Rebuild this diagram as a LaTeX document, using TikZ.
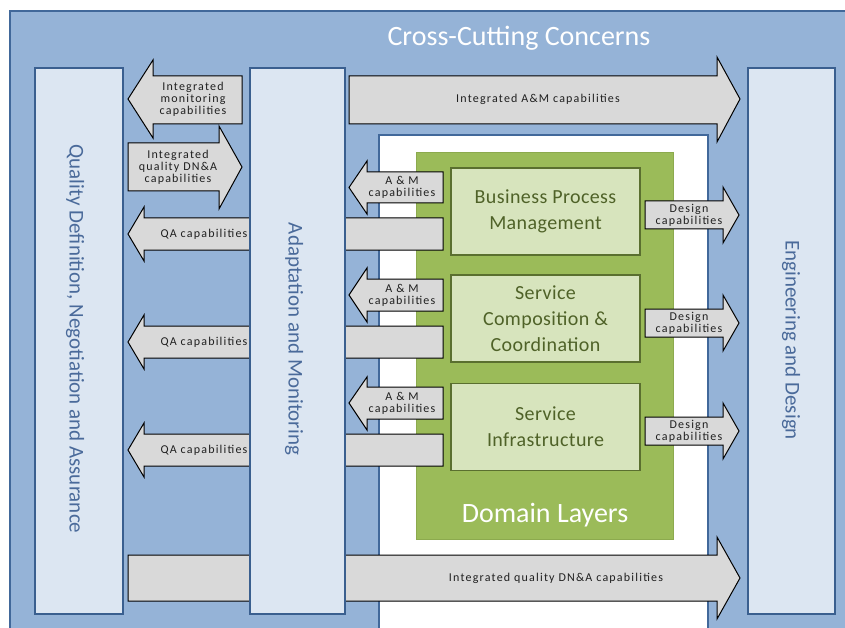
\documentclass[tikz,border=0pt]{standalone}
\usepackage{fontspec}
\setmainfont{Carlito}
\newfontfamily\lblfont[LetterSpace=10]{Carlito}
\newfontfamily\bigfont[LetterSpace=2]{Carlito}
\definecolor{frameblue}{HTML}{95B3D7}
\definecolor{frameline}{HTML}{41689A}
\definecolor{boxfill}{HTML}{DCE6F2}
\definecolor{boxline}{HTML}{3A5F8F}
\definecolor{arrgray}{HTML}{D9D9D9}
\definecolor{greenfill}{HTML}{9BBB59}
\definecolor{greenline}{HTML}{8CAA4E}
\definecolor{lightgreen}{HTML}{D7E4BD}
\definecolor{darkgreen}{HTML}{4F6228}
\definecolor{vtext}{HTML}{4A6A9A}
\definecolor{lbltext}{HTML}{202020}
\tikzset{
  outerframe/.style={fill=frameblue, draw=frameline, line width=1.3pt},
  whitearea/.style={fill=white, draw=frameline, line width=1.3pt},
  greenarea/.style={fill=greenfill, draw=greenline, line width=1pt},
  pillar/.style={fill=boxfill, draw=boxline, line width=1.6pt, inner sep=0pt, anchor=north west},
  dombox/.style={fill=lightgreen, draw=darkgreen!85!greenfill, line width=1.6pt, minimum width=189pt, minimum height=87pt, inner sep=0pt, align=center, text=darkgreen, font=\bigfont\fontsize{20}{26}\selectfont},
  blockarrow/.style={fill=arrgray, draw=black, line width=1pt, line join=miter},
  lbl/.style={inner sep=0pt, align=center, text=lbltext, font=\lblfont\fontsize{12}{12}\selectfont},
  vlabel/.style={inner sep=0pt, rotate=-90, text=vtext, font=\fontsize{21}{24}\selectfont},
  titlelbl/.style={inner sep=0pt, text=white, font=\fontsize{28}{30}\selectfont}
}
\begin{document}
\begin{tikzpicture}[x=1pt, y=-1pt]
\useasboundingbox (0,0) rectangle (845,628);
\clip (0,0) rectangle (845,628);
% outer frame
\draw[outerframe] (10,11) rectangle (860,650);
\node[titlelbl] (title) at (519,38) {Cross-Cutting Concerns};
% white area and domain layers
\draw[whitearea] (379,135) rectangle (708,650);
\draw[greenarea] (416,153) rectangle (673,539);
\node[titlelbl] (domain) at (545,515) {Domain Layers};
\node[dombox] (bpm) at (545.5,211.5) {Business Process\\Management};
\node[dombox] (scc) at (545.5,318.5) {Service\\Composition \&\\Coordination};
\node[dombox] (sinf) at (545.5,427) {Service\\Infrastructure};
% side pillars
\node[pillar, minimum width=88pt, minimum height=546pt] (qual) at (34,67) {};
\node[pillar, minimum width=87pt, minimum height=546pt] (eng) at (747,67) {};
% block arrows
\draw[blockarrow] (242,76) -- (153,76) -- (153,60) -- (128,99) -- (153,138) -- (153,124) -- (242,124) -- cycle;
\draw[blockarrow] (128,143) -- (219,143) -- (219,126) -- (242,167) -- (219,209) -- (219,191) -- (128,191) -- cycle;
\draw[blockarrow] (349,76) -- (717,76) -- (717,57) -- (740,99) -- (717,142) -- (717,124) -- (349,124) -- cycle;
% QA arrows
\draw[blockarrow] (443,218) -- (144,218) -- (144,207) -- (128,234) -- (144,261) -- (144,250) -- (443,250) -- cycle;
\draw[blockarrow] (443,326) -- (144,326) -- (144,315) -- (128,342) -- (144,369) -- (144,358) -- (443,358) -- cycle;
\draw[blockarrow] (443,434) -- (144,434) -- (144,423) -- (128,450) -- (144,477) -- (144,466) -- (443,466) -- cycle;
% A&M arrows
\draw[blockarrow] (443,172) -- (367,172) -- (367,161) -- (349,187.5) -- (367,214) -- (367,203) -- (443,203) -- cycle;
\draw[blockarrow] (443,279) -- (367,279) -- (367,268) -- (349,295) -- (367,322) -- (367,311) -- (443,311) -- cycle;
\draw[blockarrow] (443,387) -- (367,387) -- (367,377) -- (349,403) -- (367,430) -- (367,419) -- (443,419) -- cycle;
% Design arrows
\draw[blockarrow] (645,201) -- (723,201) -- (723,187) -- (739,215) -- (723,243) -- (723,229) -- (645,229) -- cycle;
\draw[blockarrow] (645,309) -- (723,309) -- (723,295) -- (739,323) -- (723,351) -- (723,337) -- (645,337) -- cycle;
\draw[blockarrow] (645,417) -- (723,417) -- (723,403) -- (739,431) -- (723,459) -- (723,445) -- (645,445) -- cycle;
% bottom arrow
\draw[blockarrow] (128,555) -- (717,555) -- (717,537) -- (740,578) -- (717,619) -- (717,601) -- (128,601) -- cycle;
% adaptation pillar on top
\node[pillar, minimum width=95pt, minimum height=546pt] (adapt) at (249,67) {};
% arrow labels
\node[lbl] (lmon) at (193,99) {Integrated\\monitoring\\capabilities};
\node[lbl] (ldna) at (178,167) {Integrated\\quality DN\&A\\capabilities};
\node[lbl] (lam) at (538,99) {Integrated A\&M capabilities};
\node[lbl] (lqa1) at (204,234) {QA capabilities};
\node[lbl] (lqa2) at (204,342) {QA capabilities};
\node[lbl] (lqa3) at (204,450) {QA capabilities};
\node[lbl] (lam1) at (402,187.5) {A \& M\\capabilities};
\node[lbl] (lam2) at (402,295) {A \& M\\capabilities};
\node[lbl] (lam3) at (402,403) {A \& M\\capabilities};
\node[lbl] (ld1) at (689,215) {Design\\capabilities};
\node[lbl] (ld2) at (689,323) {Design\\capabilities};
\node[lbl] (ld3) at (689,431) {Design\\capabilities};
\node[lbl] (lbot) at (556,578) {Integrated quality DN\&A capabilities};
% vertical labels
\node[vlabel] (qualtext) at (75,339) {Quality Definition, Negotiation and Assurance};
\node[vlabel] (adapttext) at (294,339) {Adaptation and Monitoring};
\node[vlabel] (engtext) at (791,340) {Engineering and Design};
\end{tikzpicture}
\end{document}
